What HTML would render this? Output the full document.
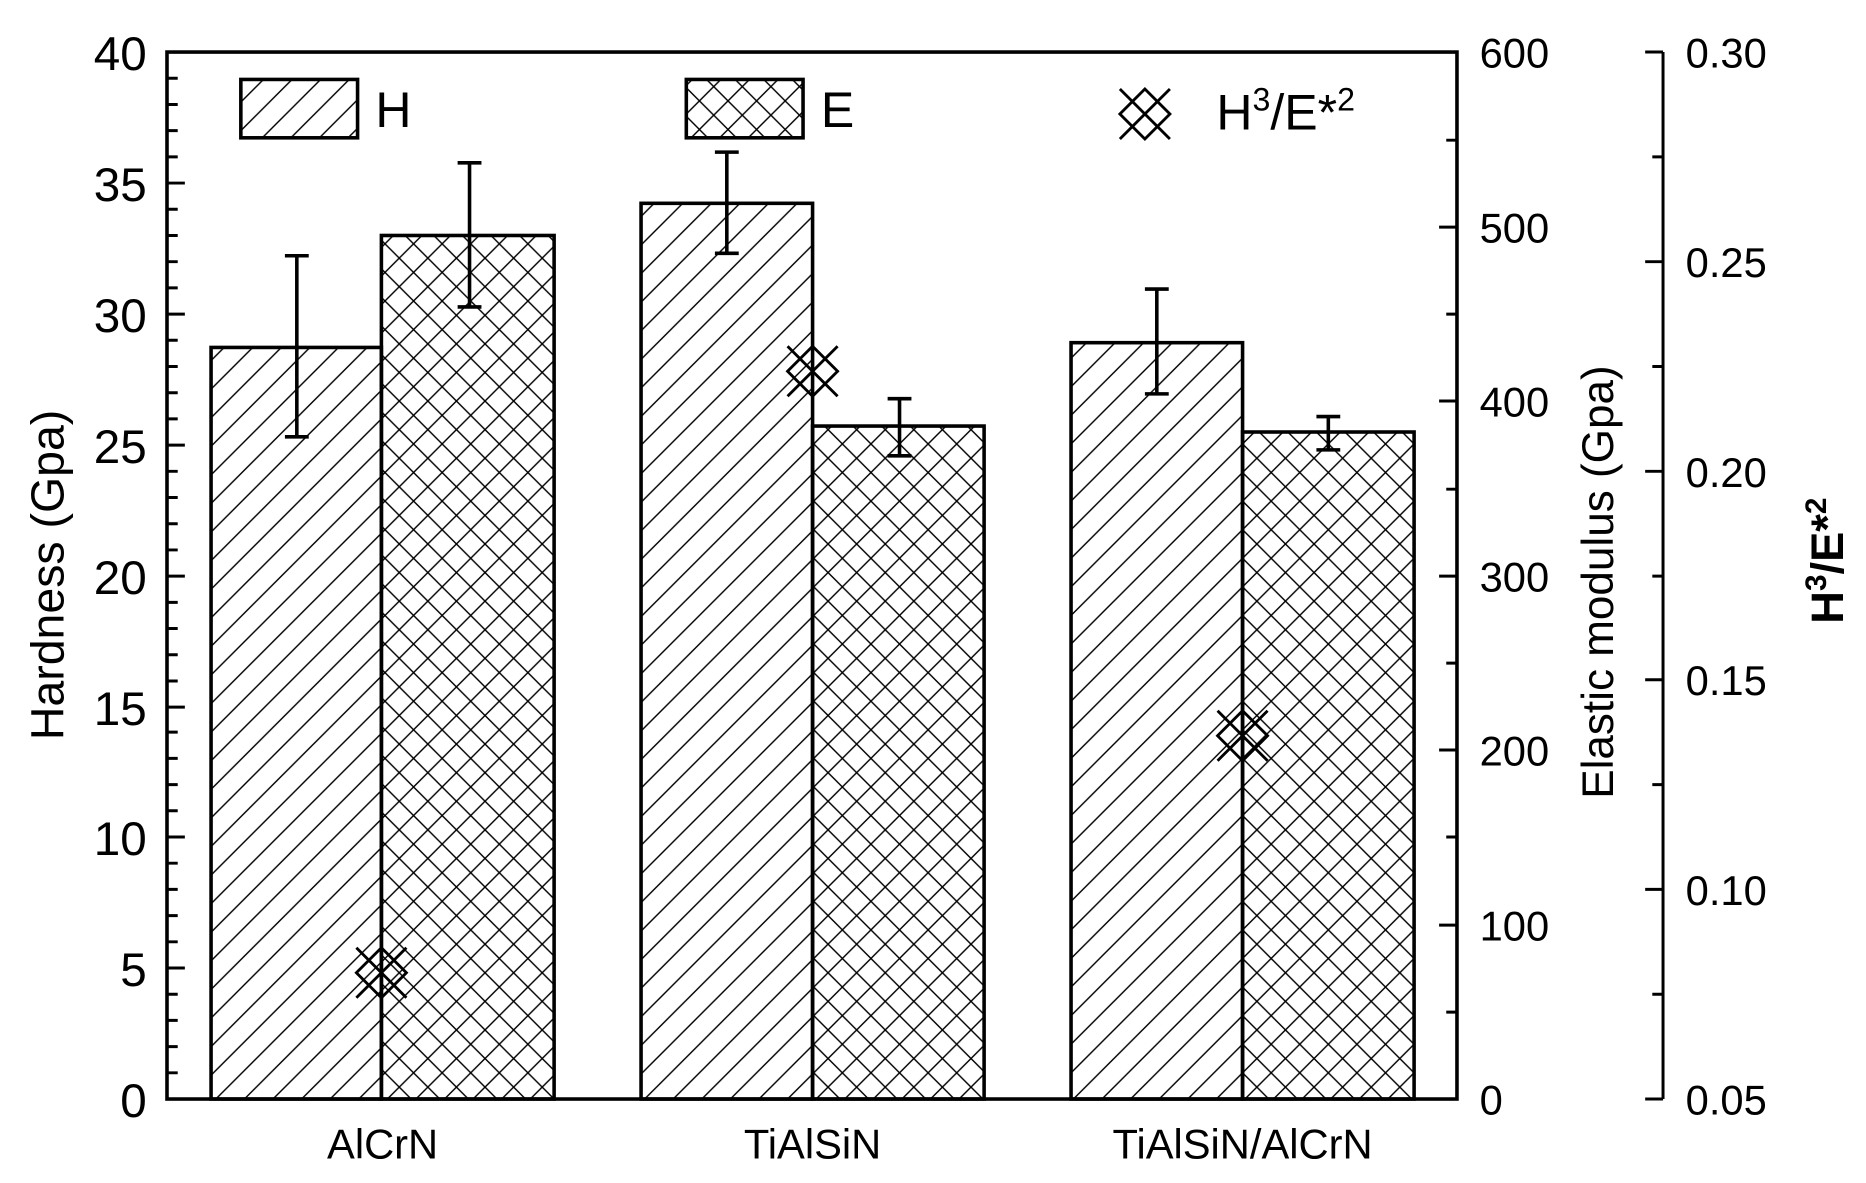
<!DOCTYPE html>
<html><head><meta charset="utf-8"><style>html,body{margin:0;padding:0;background:#fff}svg{display:block}</style></head>
<body>
<svg xmlns="http://www.w3.org/2000/svg" width="1866" height="1183" viewBox="0.8 -0.7 1566.6 993.2" preserveAspectRatio="none" font-family="'Liberation Sans', Arial, sans-serif">
<defs>
<pattern id="hatch" patternUnits="userSpaceOnUse" width="24" height="24">
<path d="M0,24 L24,0 M-6,6 L6,-6 M18,30 L30,18" stroke="#000" stroke-width="1.2"/>
</pattern>
<pattern id="cross" patternUnits="userSpaceOnUse" width="24" height="24">
<path d="M0,24 L24,0 M-6,6 L6,-6 M18,30 L30,18 M0,0 L24,24 M-6,18 L6,30 M18,-6 L30,6" stroke="#000" stroke-width="1.2"/>
</pattern>
<g id="mk" fill="none" stroke="#000" stroke-width="2.4">
<path d="M-21,-21 L21,21 M-21,21 L21,-21 M0,-21 L21,0 L0,21 L-21,0 Z"/>
</g>
</defs>
<rect x="-10" y="-10" width="1600" height="1010" fill="#fff"/>

<g stroke="#000" stroke-width="3">
<rect x="178" y="291" width="143" height="631" fill="url(#hatch)"/>
<rect x="321" y="197" width="145" height="725" fill="url(#cross)"/>
<rect x="539" y="170" width="144" height="752" fill="url(#hatch)"/>
<rect x="683" y="357" width="144" height="565" fill="url(#cross)"/>
<rect x="900" y="287" width="144" height="635" fill="url(#hatch)"/>
<rect x="1044" y="362" width="144" height="560" fill="url(#cross)"/>
</g>

<g stroke="#000" stroke-width="3">
<path d="M250,214 V366 M240,214 H260 M240,366 H260"/>
<path d="M395,136 V257 M385,136 H405 M385,257 H405"/>
<path d="M611,127 V212 M601,127 H621 M601,212 H621"/>
<path d="M756,334 V382 M746,334 H766 M746,382 H766"/>
<path d="M972,242 V330 M962,242 H982 M962,330 H982"/>
<path d="M1116,349 V377 M1106,349 H1126 M1106,377 H1126"/>
</g>

<use href="#mk" x="321" y="816"/>
<use href="#mk" x="683" y="311"/>
<use href="#mk" x="1044" y="617"/>

<rect x="141" y="43" width="1083" height="879" fill="none" stroke="#000" stroke-width="3"/>

<g stroke="#000" stroke-width="2.5">
<path d="M141,922h15M141,900h9M141,878h9M141,856h9M141,834h9M141,812h15M141,790h9M141,768h9M141,746h9M141,724h9M141,702h15M141,680h9M141,658h9M141,636h9M141,614h9M141,593h15M141,571h9M141,549h9M141,527h9M141,505h9M141,483h15M141,461h9M141,439h9M141,417h9M141,395h9M141,373h15M141,351h9M141,329h9M141,307h9M141,285h9M141,263h15M141,241h9M141,219h9M141,197h9M141,175h9M141,153h15M141,131h9M141,109h9M141,87h9M141,65h9M141,43h15"/>
<path d="M1224,922h-15M1224,849h-9M1224,776h-15M1224,702h-9M1224,629h-15M1224,556h-9M1224,483h-15M1224,410h-9M1224,336h-15M1224,263h-9M1224,190h-15M1224,117h-9M1224,43h-15"/>
<path d="M1397,43V922M1397,43h-15M1397,131h-9M1397,219h-15M1397,307h-9M1397,395h-15M1397,483h-9M1397,570h-15M1397,658h-9M1397,746h-15M1397,834h-9M1397,922h-15"/>
</g>

<g font-size="40" text-anchor="end" fill="#000">
<text x="124" y="937">0</text><text x="124" y="827">5</text><text x="124" y="717">10</text><text x="124" y="608">15</text><text x="124" y="498">20</text><text x="124" y="388">25</text><text x="124" y="278">30</text><text x="124" y="168">35</text><text x="124" y="58">40</text>
</g>
<g font-size="35" fill="#000">
<text x="1243" y="935">0</text><text x="1243" y="789">100</text><text x="1243" y="642">200</text><text x="1243" y="496">300</text><text x="1243" y="349">400</text><text x="1243" y="203">500</text><text x="1243" y="56">600</text>
<text x="1416" y="935">0.05</text><text x="1416" y="759">0.10</text><text x="1416" y="583">0.15</text><text x="1416" y="408">0.20</text><text x="1416" y="232">0.25</text><text x="1416" y="56">0.30</text>
</g>

<g font-size="35" text-anchor="middle" fill="#000">
<text x="322" y="972">AlCrN</text><text x="683" y="972">TiAlSiN</text><text x="1044" y="972">TiAlSiN/AlCrN</text>
</g>

<text transform="translate(54,482) rotate(-90)" font-size="39" text-anchor="middle">Hardness (Gpa)</text>
<text transform="translate(1355,488) rotate(-90)" font-size="37" text-anchor="middle">Elastic modulus (Gpa)</text>
<text transform="translate(1548,470) rotate(-90)" font-size="38" font-weight="bold" text-anchor="middle">H<tspan dy="-14" font-size="25">3</tspan><tspan dy="14">/E*</tspan><tspan dy="-14" font-size="25">2</tspan></text>

<rect x="203" y="66" width="98" height="49" fill="url(#hatch)" stroke="#000" stroke-width="3"/>
<text x="316" y="106" font-size="42">H</text>
<rect x="577" y="66" width="98" height="49" fill="url(#cross)" stroke="#000" stroke-width="3"/>
<text x="690" y="106" font-size="42">E</text>
<use href="#mk" x="962" y="95"/>
<text x="1022" y="108" font-size="42">H<tspan dy="-16" font-size="27">3</tspan><tspan dy="16">/E*</tspan><tspan dy="-16" font-size="27">2</tspan></text>
</svg>
</body></html>
